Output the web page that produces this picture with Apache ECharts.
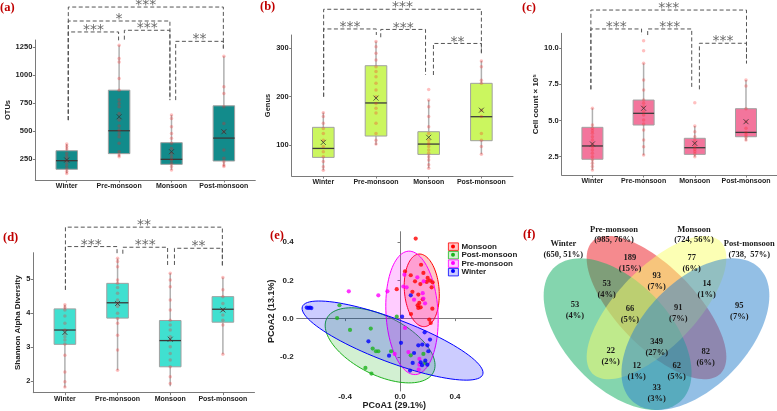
<!DOCTYPE html>
<html>
<head>
<meta charset="utf-8">
<script src="https://cdn.jsdelivr.net/npm/echarts@6/dist/echarts.min.js"></script>
<style>
  html, body { margin: 0; padding: 0; background: #fff; }
  #chart { width: 777px; height: 411px; }
</style>
</head>
<body>
<div id="chart"></div>
<script>
const seasons = ['Winter', 'Pre-monsoon', 'Monsoon', 'Post-monsoon'];

// box stats per season: [whisker low, Q1, median, Q3, whisker high]
const otuBox = [[120, 158, 235, 324, 384], [271, 298, 503, 866, 1268], [152, 202, 247, 396, 643], [182, 232, 437, 726, 1170]];
const otuMean = [241, 628, 315, 494];
const otuPts = [
  [384, 362, 340, 300, 272, 250, 225, 197, 168, 140, 120],
  [1268, 1149, 1119, 970, 866, 777, 747, 717, 658, 598, 545, 509, 479, 449, 390, 315, 286, 271],
  [643, 613, 539, 479, 435, 390, 345, 301, 271, 241, 211, 182, 152],
  [1170, 896, 836, 717, 568, 494, 330, 256, 226, 196, 182]
];
const otuTicks = [250, 500, 750, 1000, 1250];
// significance brackets: [x left, x right, bracket level, left drop end, right drop end]
const otuSig = [[1.03, 3.99, 1610, 598, 1238], [1.03, 2.97, 1485, 598, 777], [1.03, 1.99, 1387, 598, 1312], [2.10, 2.97, 1402, 1318, 777], [3.08, 3.99, 1303, 777, 1238]];
const otuSigLab = ['***', '*', '***', '***', '**'];

const genusBox = [[48, 74.5, 93, 136.6, 167], [100, 118.6, 187, 264, 314], [52, 80.7, 102, 127.6, 193], [81, 109, 158.6, 227.6, 274]];
const genusMean = [105.5, 197, 116, 172];
const genusPts = [
  [167, 159, 145, 134, 124, 110, 97, 86, 76, 66, 55, 48],
  [314, 303, 290, 276, 262, 252, 241, 228, 214, 200, 186, 176, 166, 145, 124, 110, 102],
  [215, 193, 179, 159, 138, 124, 110, 103, 97, 90, 83, 76, 69, 59, 52],
  [274, 262, 234, 228, 172, 159, 124, 110, 97, 81]
];
const genusTicks = [100, 200, 300];
const genusSig = [[1.006, 4.0, 380.7, 200, 289.6], [1.006, 2.006, 340, 200, 327.6], [2.09, 2.94, 339, 322.8, 244.8], [3.09, 4.0, 310, 244.8, 289.6]];
const genusSigLab = ['***', '***', '***', '**'];

const cellBox = [[1.58, 2.32, 3.24, 4.53, 5.85], [2.6, 4.69, 5.5, 6.42, 8.96], [2.5, 2.66, 3.12, 3.77, 4.62], [3.6, 3.88, 4.18, 5.82, 7.8]];
const cellMean = [3.38, 5.85, 3.42, 4.92];
const cellPts = [
  [5.85, 4.69, 4.46, 4.3, 4.12, 3.88, 3.65, 3.38, 3.19, 2.96, 2.73, 2.5, 2.27, 2.04, 1.81, 1.58],
  [10.53, 9.84, 8.96, 7.81, 7.12, 6.42, 6.19, 5.96, 5.62, 5.38, 5.04, 4.76, 4.35, 3.65, 3.19, 2.62],
  [6.24, 4.62, 4.23, 3.88, 3.65, 3.42, 3.19, 3.01, 2.85, 2.68, 2.5],
  [7.81, 7.39, 5.82, 4.92, 4.46, 4.18, 4.0, 3.84, 3.65]
];
const cellTicks = [2.5, 5.0, 7.5, 10.0];
const cellSig = [[0.97, 4.01, 12.65, 7.16, 8.96], [0.97, 1.96, 11.34, 7.16, 10.92], [2.08, 2.94, 11.34, 10.92, 7.16], [3.09, 4.01, 10.35, 7.16, 8.96]];
const cellSigLab = ['***', '***', '***', '***'];

const shanBox = [[1.81, 3.08, 3.5, 4.12, 4.24], [2.32, 3.85, 4.3, 4.87, 5.6], [1.85, 2.42, 3.19, 3.78, 5.17], [2.79, 3.73, 4.11, 4.48, 5.04]];
const shanMean = [3.43, 4.28, 3.23, 4.09];
const shanPts = [
  [4.24, 4.17, 4.09, 3.91, 3.7, 3.5, 3.4, 3.3, 3.21, 3.09, 2.76, 2.27, 1.98, 1.83],
  [5.61, 5.51, 5.36, 4.97, 4.87, 4.75, 4.58, 4.38, 4.28, 4.19, 3.99, 3.84, 3.7, 3.35, 2.91, 2.32],
  [5.17, 4.97, 4.77, 4.38, 4.09, 3.79, 3.65, 3.5, 3.3, 3.21, 3.01, 2.81, 2.62, 2.42, 2.13, 1.93],
  [5.04, 4.68, 4.48, 4.28, 4.09, 3.94, 3.79, 3.65, 2.79]
];
const shanTicks = [2, 3, 4, 5];
const shanSig = [[1.01, 3.99, 6.52, 4.68, 5.36], [1.01, 1.99, 5.95, 4.68, 5.75], [2.10, 2.95, 5.93, 5.74, 5.41], [3.08, 3.99, 5.90, 5.41, 5.36]];
const shanSigLab = ['**', '***', '***', '**'];

// PCoA
const pcoaGroups = ['Monsoon', 'Post-monsoon', 'Pre-monsoon', 'Winter'];
const monsoonPts = [[0.114, 0.419], [0.153, 0.282], [0.036, 0.247], [0.078, 0.227], [0.201, 0.213], [0.218, 0.199], [0.194, 0.192], [0.237, 0.19], [0.148, 0.181], [0.23, 0.164], [-0.024, 0.154], [0.09, 0.14], [0.133, 0.126], [0.165, 0.101], [0.14, 0.082], [0.128, 0.07], [0.15, 0.059], [0.133, 0.056], [0.235, 0.052], [0.08, 0.024], [0.213, -0.005], [0.223, -0.023], [0.109, 0.195], [0.17, 0.239]];
const postPts = [[-0.441, 0.07], [-0.458, 0.003], [-0.364, -0.059], [-0.213, -0.052], [-0.199, -0.157], [-0.175, -0.171], [-0.158, -0.171], [-0.252, -0.258], [-0.208, -0.288], [-0.065, -0.171], [-0.024, 0.01], [0.078, -0.192], [0.17, -0.185], [0.182, -0.232]];
const prePts = [[-0.373, 0.143], [-0.158, 0.122], [-0.092, 0.143], [0.032, 0.23], [0.126, 0.216], [0.172, 0.195], [0.024, 0.168], [0.048, 0.164], [0.102, 0.099], [0.165, 0.133], [0.17, 0.105], [0.182, 0.08], [0.036, -0.049], [0.061, -0.175], [-0.039, -0.185], [0.141, -0.211], [0.141, -0.241], [0.136, -0.267]];
const winterPts = [[-0.679, 0.058], [-0.667, 0.056], [-0.655, 0.058], [-0.645, 0.055], [0.015, 0.01], [0.078, 0.122], [-0.23, -0.119], [0.007, -0.127], [-0.08, -0.194], [0.102, -0.18], [0.133, -0.14], [0.162, -0.136], [0.199, -0.14], [0.179, -0.072], [0.218, -0.11], [0.206, -0.171], [0.092, -0.232], [0.15, -0.229], [0.16, -0.244], [0.184, -0.22], [0.199, -0.241], [0.073, -0.272]];
// confidence ellipses: [cx, cy, axis A x, axis A y, axis B x, axis B y]
const monsoonEll = [0.158, 0.148, -0.0206, 0.190, 0.126, 0.007];
const postEll = [-0.145, -0.140, 0.388, -0.141, -0.096, -0.137];
const preEll = [0.087, 0.030, -0.0255, 0.323, 0.189, 0.0077];
const winterEll = [-0.0545, -0.115, 0.656, -0.178, -0.0556, -0.106];
const pcoaXTicks = [-0.4, 0.0, 0.4];
const pcoaYTicks = [-0.2, 0.0, 0.2, 0.4];

// Venn
const vennSets = ['Pre-monsoon', 'Winter', 'Monsoon', 'Post-monsoon'];
const vennSetText = ['Winter\n(650, 51%)', 'Pre-monsoon\n(985, 76%)', 'Monsoon\n(724, 56%)', 'Post-monsoon\n(738,  57%)'];
const vennCounts = [189, 77, 53, 93, 14, 53, 66, 91, 95, 349, 22, 82, 12, 62, 33];
const vennPct = ['15%', '6%', '4%', '7%', '1%', '4%', '5%', '7%', '7%', '27%', '2%', '6%', '1%', '5%', '3%'];

// layout (not data)
const vennEllGeom = [[0.5, 0.57, 0.35, 0.15, -45], [0.35, 0.47, 0.35, 0.20, -45], [0.5, 0.57, 0.35, 0.15, 45], [0.65, 0.47, 0.35, 0.20, 45]];
const vennEllColor = ['rgba(236,22,30,0.5)', 'rgba(22,176,102,0.53)', 'rgba(250,255,105,0.5)', 'rgba(48,132,206,0.52)'];
const vennSetPos = [[0.1407, 0.789], [0.3362, 0.844], [0.6446, 0.844], [0.8577, 0.789]];
const vennLabPos = [[0.3978, 0.738], [0.6357, 0.738], [0.308, 0.640], [0.5008, 0.669], [0.6935, 0.639], [0.1858, 0.560], [0.3978, 0.543], [0.584, 0.549], [0.8192, 0.555], [0.5008, 0.422], [0.3234, 0.385], [0.6897, 0.383], [0.4237, 0.332], [0.5779, 0.330], [0.5008, 0.246]];

const chart = echarts.init(document.getElementById('chart'));
const SANS = 'Liberation Sans';
const axisGrey = '#7a7a7a';

const grids = [], xAxes = [], yAxes = [], series = [];

function renderBox(fill) {
  return function (params, api) {
    const x = api.value(0), w = 0.205;
    const lo = api.coord([x, api.value(1)]);
    const q1 = api.coord([x - w, api.value(2)]);
    const mL = api.coord([x - w, api.value(3)]);
    const mR = api.coord([x + w, api.value(3)]);
    const q3 = api.coord([x + w, api.value(4)]);
    const hi = api.coord([x, api.value(5)]);
    return {
      type: 'group', children: [
        { type: 'line', shape: { x1: lo[0], y1: lo[1], x2: lo[0], y2: q1[1] }, style: { stroke: '#b0b0b0', lineWidth: 1.5 } },
        { type: 'line', shape: { x1: hi[0], y1: hi[1], x2: hi[0], y2: q3[1] }, style: { stroke: '#b0b0b0', lineWidth: 1.5 } },
        { type: 'rect', shape: { x: q1[0], y: q3[1], width: q3[0] - q1[0], height: q1[1] - q3[1] }, style: { fill: fill, stroke: '#a0a0a0', lineWidth: 1 } },
        { type: 'line', shape: { x1: mL[0], y1: mL[1], x2: mR[0], y2: mR[1] }, style: { stroke: '#3a3a3a', lineWidth: 1.3 } }
      ]
    };
  };
}

function renderSig(labels) {
  return function (params, api) {
    const p1 = api.coord([api.value(0), api.value(3)]);
    const p2 = api.coord([api.value(0), api.value(2)]);
    const p3 = api.coord([api.value(1), api.value(2)]);
    const p4 = api.coord([api.value(1), api.value(4)]);
    return {
      type: 'group', children: [
        { type: 'polyline', shape: { points: [p1, p2, p3, p4] }, style: { stroke: '#555', fill: 'none', lineWidth: 1, lineDash: [4, 2.5] } },
        { type: 'text', style: { text: labels[params.dataIndex], x: (p2[0] + p3[0]) / 2, y: p2[1] - 1.5, align: 'center', verticalAlign: 'middle', fill: '#6a6a6a', font: '14px "DejaVu Sans"' } }
      ]
    };
  };
}

function axisCommon() {
  return {
    axisLine: { show: true, lineStyle: { color: axisGrey, width: 1 } },
    axisTick: { show: true, length: 2.5, lineStyle: { color: axisGrey } },
    splitLine: { show: false }
  };
}

function boxPanel(g, rect, yMin, yMax, ticks, fmt, yName, nameGap, nameSize, fill, box, mean, pts, sig, sigLab) {
  grids.push(Object.assign({ containLabel: false, outerBoundsMode: 'none' }, rect));
  xAxes.push(Object.assign(axisCommon(), {
    type: 'value', gridIndex: g, min: 0.4, max: 4.6,
    axisTick: { show: true, length: 2.5, lineStyle: { color: axisGrey }, customValues: [1, 2, 3, 4] },
    axisLabel: { customValues: [1, 2, 3, 4], formatter: v => seasons[Math.round(v) - 1], fontFamily: SANS, fontWeight: 'bold', fontSize: 7, color: '#222', margin: 2.5 }
  }));
  yAxes.push(Object.assign(axisCommon(), {
    type: 'value', gridIndex: g, min: yMin, max: yMax,
    axisTick: { show: true, length: 2.5, lineStyle: { color: axisGrey }, customValues: ticks },
    axisLabel: { customValues: ticks, formatter: fmt, fontFamily: SANS, fontWeight: 'bold', fontSize: 7.5, color: '#222', margin: 3 },
    name: yName, nameLocation: 'middle', nameGap: nameGap, nameRotate: 90,
    nameTextStyle: { fontFamily: SANS, fontWeight: 'bold', fontSize: nameSize, color: '#222' }
  }));
  series.push({
    type: 'custom', xAxisIndex: g, yAxisIndex: g, z: 2,
    renderItem: renderBox(fill),
    encode: { x: 0, y: [1, 2, 3, 4, 5] },
    data: box.map((b, i) => [i + 1].concat(b))
  });
  const pdata = [];
  pts.forEach((arr, i) => arr.forEach(v => pdata.push([i + 1, v])));
  series.push({
    type: 'scatter', xAxisIndex: g, yAxisIndex: g, z: 3, symbolSize: 3.5,
    itemStyle: { color: 'rgba(255,30,30,0.35)' }, data: pdata, silent: true
  });
  series.push({
    type: 'scatter', xAxisIndex: g, yAxisIndex: g, z: 4, symbol: 'path://M0 0L10 10M10 0L0 10', symbolSize: 5,
    itemStyle: { color: 'rgba(0,0,0,0)', borderColor: '#333', borderWidth: 1 },
    data: mean.map((m, i) => [i + 1, m]), silent: true
  });
  series.push({
    type: 'custom', xAxisIndex: g, yAxisIndex: g, z: 5, clip: false,
    renderItem: renderSig(sigLab), encode: { x: [0, 1], y: [2, 3, 4] }, data: sig, silent: true
  });
}

boxPanel(0, { left: 35.3, top: 40, width: 220, height: 140 }, 62, 1315, otuTicks, v => String(v), 'OTUs', 21, 7.5, '#128b8b', otuBox, otuMean, otuPts, otuSig, otuSigLab);
boxPanel(1, { left: 291.7, top: 35, width: 221.3, height: 141 }, 36, 327.5, genusTicks, v => String(v), 'Genus', 18, 7.5, '#cbf65f', genusBox, genusMean, genusPts, genusSig, genusSigLab);
boxPanel(2, { left: 561.7, top: 33.3, width: 215, height: 141.7 }, 1.23, 11.04, cellTicks, v => v.toFixed(1), 'Cell count \u00d7 10\u2075', 19, 8, '#f3759c', cellBox, cellMean, cellPts, cellSig, cellSigLab);
boxPanel(3, { left: 33.3, top: 252.7, width: 221.2, height: 140 }, 1.66, 5.77, shanTicks, v => String(v), 'Shannon Alpha Diversity', 8, 8, '#40e0d0', shanBox, shanMean, shanPts, shanSig, shanSigLab);

// (e) PCoA
grids.push({ left: 296.7, top: 231.7, width: 195, height: 159.3, containLabel: false, outerBoundsMode: 'none' });
xAxes.push(Object.assign(axisCommon(), {
  type: 'value', gridIndex: 4, min: -0.752, max: 0.667,
  axisTick: { show: true, length: 2.5, lineStyle: { color: axisGrey }, customValues: pcoaXTicks },
  axisLabel: { customValues: pcoaXTicks, formatter: v => v.toFixed(1), fontFamily: SANS, fontWeight: 'bold', fontSize: 8, color: '#222', margin: 1.5 },
  name: 'PCoA1 (29.1%)', nameLocation: 'middle', nameGap: 6.5,
  nameTextStyle: { fontFamily: SANS, fontWeight: 'bold', fontSize: 9, color: '#222' }
}));
yAxes.push(Object.assign(axisCommon(), {
  type: 'value', gridIndex: 4, min: -0.379, max: 0.455,
  axisTick: { show: true, length: 2.5, lineStyle: { color: axisGrey }, customValues: pcoaYTicks },
  axisLabel: { customValues: pcoaYTicks, formatter: v => v.toFixed(1), fontFamily: SANS, fontWeight: 'bold', fontSize: 8, color: '#222', margin: 3 },
  name: 'PCoA2 (13.1%)', nameLocation: 'middle', nameGap: 19, nameRotate: 90,
  nameTextStyle: { fontFamily: SANS, fontWeight: 'bold', fontSize: 9, color: '#222' }
}));

const pcoaColor = { 'Monsoon': '#ff0000', 'Post-monsoon': '#1db31d', 'Pre-monsoon': '#ff00ff', 'Winter': '#0000ff' };
const pcoaFill = { 'Monsoon': 'rgba(255,0,0,0.22)', 'Post-monsoon': 'rgba(29,179,29,0.2)', 'Pre-monsoon': 'rgba(255,0,255,0.2)', 'Winter': 'rgba(0,0,255,0.2)' };
const pcoaPts = { 'Monsoon': monsoonPts, 'Post-monsoon': postPts, 'Pre-monsoon': prePts, 'Winter': winterPts };
const pcoaEll = { 'Monsoon': monsoonEll, 'Post-monsoon': postEll, 'Pre-monsoon': preEll, 'Winter': winterEll };

pcoaGroups.forEach((name, k) => {
  series.push({
    type: 'custom', name: name, xAxisIndex: 4, yAxisIndex: 4, z: 2 + k * 0.01, clip: false, silent: true,
    encode: { x: 0, y: 1 }, data: [pcoaEll[name]],
    renderItem: function (params, api) {
      const e = pcoaEll[name];
      const pts = [];
      for (let i = 0; i < 96; i++) {
        const t = i / 96 * Math.PI * 2;
        pts.push(api.coord([e[0] + Math.cos(t) * e[2] + Math.sin(t) * e[4], e[1] + Math.cos(t) * e[3] + Math.sin(t) * e[5]]));
      }
      return { type: 'polygon', shape: { points: pts }, style: { fill: pcoaFill[name], stroke: pcoaColor[name], lineWidth: 1 } };
    }
  });
});
pcoaGroups.forEach(name => {
  series.push({
    type: 'scatter', name: name, xAxisIndex: 4, yAxisIndex: 4, z: 3, symbolSize: 4.2, silent: true,
    itemStyle: { color: pcoaColor[name] }, data: pcoaPts[name]
  });
});

// (f) Venn on a unit grid
grids.push({ left: 526.8, top: 193.2, width: 259.4, height: 266, containLabel: false, outerBoundsMode: 'none' });
xAxes.push({ type: 'value', gridIndex: 5, min: 0, max: 1, show: false });
yAxes.push({ type: 'value', gridIndex: 5, min: 0, max: 1, show: false });
series.push({
  type: 'custom', xAxisIndex: 5, yAxisIndex: 5, z: 2, clip: false, silent: true,
  encode: { x: 0, y: 1 }, data: vennEllGeom,
  renderItem: function (params, api) {
    const g = vennEllGeom[params.dataIndex];
    const r = g[4] * Math.PI / 180;
    const pts = [];
    for (let i = 0; i < 120; i++) {
      const t = i / 120 * Math.PI * 2;
      const ex = g[2] * Math.cos(t), ey = g[3] * Math.sin(t);
      pts.push(api.coord([g[0] + ex * Math.cos(r) - ey * Math.sin(r), g[1] + ex * Math.sin(r) + ey * Math.cos(r)]));
    }
    return { type: 'polygon', shape: { points: pts }, style: { fill: vennEllColor[params.dataIndex] } };
  }
});
series.push({
  type: 'custom', xAxisIndex: 5, yAxisIndex: 5, z: 3, clip: false, silent: true,
  encode: { x: 0, y: 1 }, data: vennLabPos,
  renderItem: function (params, api) {
    const p = api.coord([api.value(0), api.value(1)]);
    return { type: 'text', style: { text: vennCounts[params.dataIndex] + '\n(' + vennPct[params.dataIndex] + ')', x: p[0], y: p[1], align: 'center', verticalAlign: 'middle', lineHeight: 11, fill: '#1a1a1a', font: 'bold 8.5px "Liberation Serif"' } };
  }
});
series.push({
  type: 'custom', xAxisIndex: 5, yAxisIndex: 5, z: 3, clip: false, silent: true,
  encode: { x: 0, y: 1 }, data: vennSetPos,
  renderItem: function (params, api) {
    const p = api.coord([api.value(0), api.value(1)]);
    return { type: 'text', style: { text: vennSetText[params.dataIndex], x: p[0], y: p[1], align: 'center', verticalAlign: 'middle', lineHeight: 10.5, fill: '#1a1a1a', font: 'bold 8.5px "Liberation Serif"' } };
  }
});

const panelTags = [['(a)', 0, 8], ['(b)', 260, 7], ['(c)', 522, 8], ['(d)', 3, 238], ['(e)', 270, 236], ['(f)', 523, 235]];

chart.setOption({
  animation: false,
  backgroundColor: '#fff',
  grid: grids,
  xAxis: xAxes,
  yAxis: yAxes,
  legend: [
    {
      orient: 'vertical', left: 443, top: 237.5, itemWidth: 10, itemHeight: 7.5, itemGap: 0.2, selectedMode: false,
      textStyle: { fontFamily: SANS, fontWeight: 'bold', fontSize: 8, lineHeight: 7.5, color: '#222', padding: [0, 0, 0, -2] },
      data: pcoaGroups.map(n => ({ name: n, icon: 'rect', itemStyle: { color: pcoaFill[n], borderColor: pcoaColor[n], borderWidth: 0.8 } }))
    },
    {
      orient: 'vertical', left: 446, top: 237.5, itemWidth: 4, itemHeight: 7.5, itemGap: 0.2, selectedMode: false,
      formatter: () => ' ',
      textStyle: { fontFamily: SANS, fontSize: 8, lineHeight: 7.5 },
      data: pcoaGroups.map(n => ({ name: n, icon: 'circle', itemStyle: { color: pcoaColor[n], borderWidth: 0 } }))
    }
  ],
  graphic: panelTags.map(t => ({
    type: 'text', left: t[1], top: t[2] - 7, z: 10,
    style: { text: t[0], fill: '#c00000', font: 'bold 12.5px "Liberation Serif"' }
  })),
  series: series
});
</script>
</body>
</html>
